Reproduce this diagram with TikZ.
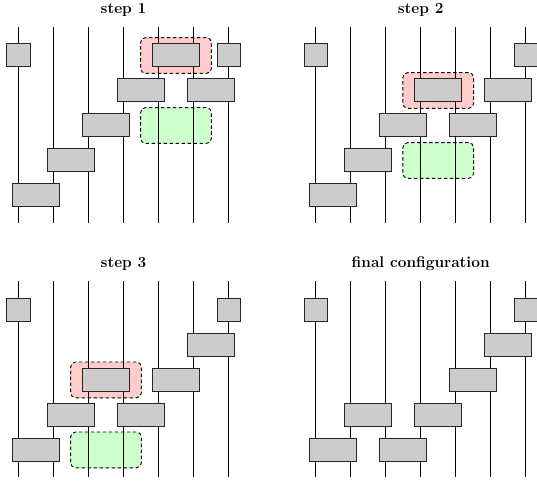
\documentclass[tikz,border=0pt]{standalone}
\begin{document}
\begin{tikzpicture}[x=1bp,y=-1bp,
  wire/.style={line width=0.9bp},
  sq/.style={draw=black!85, fill=black!20, line width=1bp, minimum width=23bp, minimum height=23bp, inner sep=0pt, outer sep=0pt},
  gatebox/.style={draw=black!85, fill=black!20, line width=1bp, minimum width=46.7bp, minimum height=23bp, inner sep=0pt, outer sep=0pt},
  hl/.style={draw, dash pattern=on 3.5bp off 2.5bp, line width=0.9bp, rounded corners=5bp, minimum width=70.8bp, minimum height=35.8bp, inner sep=0pt},
  hlred/.style={hl, fill=red!20},
  hlgreen/.style={hl, fill=green!20},
  ttl/.style={anchor=base, inner sep=0pt, font=\fontsize{15.5}{18}\selectfont\bfseries}]
\useasboundingbox (0,0) rectangle (537,485);

% panel macro-like scopes
\foreach \p/\ox/\oy/\t/\singles/\gates/\red/\green in {
  a/0/0/{step 1}/{1/1,1/7}/{2/4,2/6,3/3,4/2,5/1}/{1/5}/{3/5},
  b/297.2/0/{step 2}/{1/1,1/7}/{2/6,3/3,3/5,4/2,5/1}/{2/4}/{4/4},
  c/0/254.4/{step 3}/{1/1,1/7}/{2/6,3/5,4/2,4/4,5/1}/{3/3}/{5/3},
  d/297.2/254.4/{final configuration}/{1/1,1/7}/{2/6,3/5,4/2,4/4,5/1,5/3}/{}/{}} {
  \begin{scope}[shift={(\ox,\oy)}]
    \node[ttl] (\p title) at (123.5,13.3) {\t};
    \foreach \r/\w in \red {
      \node[hlred] (\p red) at ({35*\w+1},{35*\r+20.5}) {};
    }
    \foreach \r/\w in \green {
      \node[hlgreen] (\p green) at ({35*\w+1},{35*\r+20.5}) {};
    }
    \foreach \k in {1,...,7} {
      \coordinate (\p w\k t) at ({35*\k-16.5},27);
      \coordinate (\p w\k b) at ({35*\k-16.5},223);
      \draw[wire] (\p w\k t) -- (\p w\k b);
    }
    \foreach \r/\w in \red {
      \node[gatebox] (\p g\r-\w) at ({35*\w+1},{35*\r+20.3}) {};
    }
    \foreach \r/\w in \gates {
      \node[gatebox] (\p g\r-\w) at ({35*\w+1},{35*\r+20.3}) {};
    }
    \foreach \r/\w in \singles {
      \node[sq] (\p s\r-\w) at ({35*\w-16.5},{35*\r+20.3}) {};
    }
  \end{scope}
}
\end{tikzpicture}
\end{document}
